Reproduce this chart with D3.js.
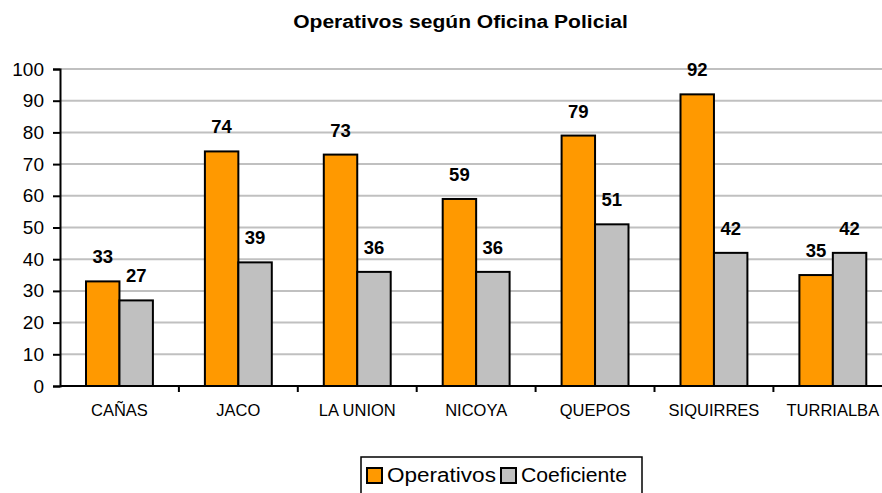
<!DOCTYPE html>
<html>
<head>
<meta charset="utf-8">
<script src="https://cdn.jsdelivr.net/npm/d3@7"></script>
<style>
  html, body { margin: 0; padding: 0; background: #fff; }
  svg { display: block; font-family: Arial, "Liberation Sans", sans-serif; }
</style>
</head>
<body>
<svg id="chart" width="882" height="493"></svg>
<script>
// Operativos y coeficiente por oficina policial
const categories = ["CAÑAS", "JACO", "LA UNION", "NICOYA", "QUEPOS", "SIQUIRRES", "TURRIALBA"];
const operativos = [33, 74, 73, 59, 79, 92, 35];
const coeficiente = [27, 39, 36, 36, 51, 42, 42];
const seriesNames = ["Operativos", "Coeficiente"];
const seriesColors = ["#FF9900", "#C0C0C0"];
const yTicks = [0, 10, 20, 30, 40, 50, 60, 70, 80, 90, 100];
const title = "Operativos según Oficina Policial";

const svg = d3.select("#chart");
const plotLeft = 60, plotTop = 69, plotBottom = 386, bandW = 118.9;

// Stretch a text element horizontally so it spans the given width
function fitWidth(sel, width, anchorX) {
  const w = sel.node().getComputedTextLength();
  const k = width / w;
  sel.attr("transform", `translate(${anchorX},0) scale(${k},1) translate(${-anchorX},0)`);
}

const x = d3.scaleBand()
  .domain(categories)
  .range([plotLeft, plotLeft + bandW * categories.length])
  .paddingInner(0).paddingOuter(0);

const xs = d3.scaleBand()
  .domain(seriesNames)
  .range([26, bandW - 26])
  .padding(0);

const y = d3.scaleLinear().domain([0, 100]).range([plotBottom, plotTop]);

// Title
const titleText = svg.append("text")
  .attr("x", 460.5).attr("y", 28)
  .attr("text-anchor", "middle")
  .attr("font-weight", "bold")
  .attr("font-size", "18px")
  .attr("fill", "#000")
  .text(title);
fitWidth(titleText, 335, 460.5);

// Gridlines
svg.append("g")
  .selectAll("line")
  .data(yTicks.filter(d => d > 0))
  .join("line")
  .attr("x1", plotLeft).attr("x2", 882)
  .attr("y1", d => y(d)).attr("y2", d => y(d))
  .attr("stroke", "#C0C0C0")
  .attr("stroke-width", 2);

// Data rows
const rows = categories.map((c, i) => ({ cat: c, values: [operativos[i], coeficiente[i]] }));

const groups = svg.append("g")
  .selectAll("g")
  .data(rows)
  .join("g")
  .attr("transform", d => `translate(${x(d.cat)},0)`);

groups.selectAll("rect")
  .data(d => d.values.map((v, j) => ({ v, s: seriesNames[j], j })))
  .join("rect")
  .attr("x", d => xs(d.s))
  .attr("y", d => y(d.v))
  .attr("width", xs.bandwidth())
  .attr("height", d => y(0) - y(d.v))
  .attr("fill", d => seriesColors[d.j])
  .attr("stroke", "#000")
  .attr("stroke-width", 2);

groups.selectAll("text.val")
  .data(d => d.values.map((v, j) => ({ v, s: seriesNames[j] })))
  .join("text")
  .attr("class", "val")
  .attr("x", d => xs(d.s) + xs.bandwidth() / 2)
  .attr("y", d => y(d.v) - 18)
  .attr("text-anchor", "middle")
  .attr("font-weight", "bold")
  .attr("font-size", "18.5px")
  .attr("fill", "#000")
  .text(d => d.v);

// Y axis
const yAxis = d3.axisLeft(y).tickValues(yTicks).tickSize(7).tickPadding(9).tickFormat(d3.format("d"));
const gy = svg.append("g").attr("transform", `translate(${plotLeft},0)`).call(yAxis);
gy.select(".domain").attr("stroke", "#000").attr("stroke-width", 2);
gy.selectAll(".tick line").attr("stroke", "#000").attr("stroke-width", 2);
gy.selectAll(".tick text").attr("font-size", "19px").attr("fill", "#000")
  .attr("font-family", "Arial, 'Liberation Sans', sans-serif");

// X axis
const gx = svg.append("g").attr("transform", `translate(0,${plotBottom})`);
gx.append("line")
  .attr("x1", plotLeft).attr("x2", 882).attr("y1", 0).attr("y2", 0)
  .attr("stroke", "#000").attr("stroke-width", 2);
gx.selectAll("line.tk")
  .data(categories.slice(1))
  .join("line")
  .attr("class", "tk")
  .attr("x1", d => x(d)).attr("x2", d => x(d))
  .attr("y1", 0).attr("y2", 6)
  .attr("stroke", "#000").attr("stroke-width", 2);
gx.selectAll("text")
  .data(categories)
  .join("text")
  .attr("x", d => x(d) + x.bandwidth() / 2)
  .attr("y", 30)
  .attr("text-anchor", "middle")
  .attr("font-size", "16.5px")
  .attr("fill", "#000")
  .text(d => d);

// Legend
const lg = svg.append("g");
lg.append("rect")
  .attr("x", 361).attr("y", 457).attr("width", 281).attr("height", 50)
  .attr("fill", "#fff").attr("stroke", "#000").attr("stroke-width", 1.5);
const legendX = [367, 501];
const legendTextW = [109, 106];
seriesNames.forEach((name, j) => {
  lg.append("rect")
    .attr("x", legendX[j]).attr("y", 468).attr("width", 15).attr("height", 15)
    .attr("fill", seriesColors[j]).attr("stroke", "#000").attr("stroke-width", 2);
  const t = lg.append("text")
    .attr("x", legendX[j] + 20).attr("y", 482)
    .attr("font-size", "21px")
    .attr("fill", "#000")
    .text(name);
  fitWidth(t, legendTextW[j], legendX[j] + 20);
});
</script>
</body>
</html>
